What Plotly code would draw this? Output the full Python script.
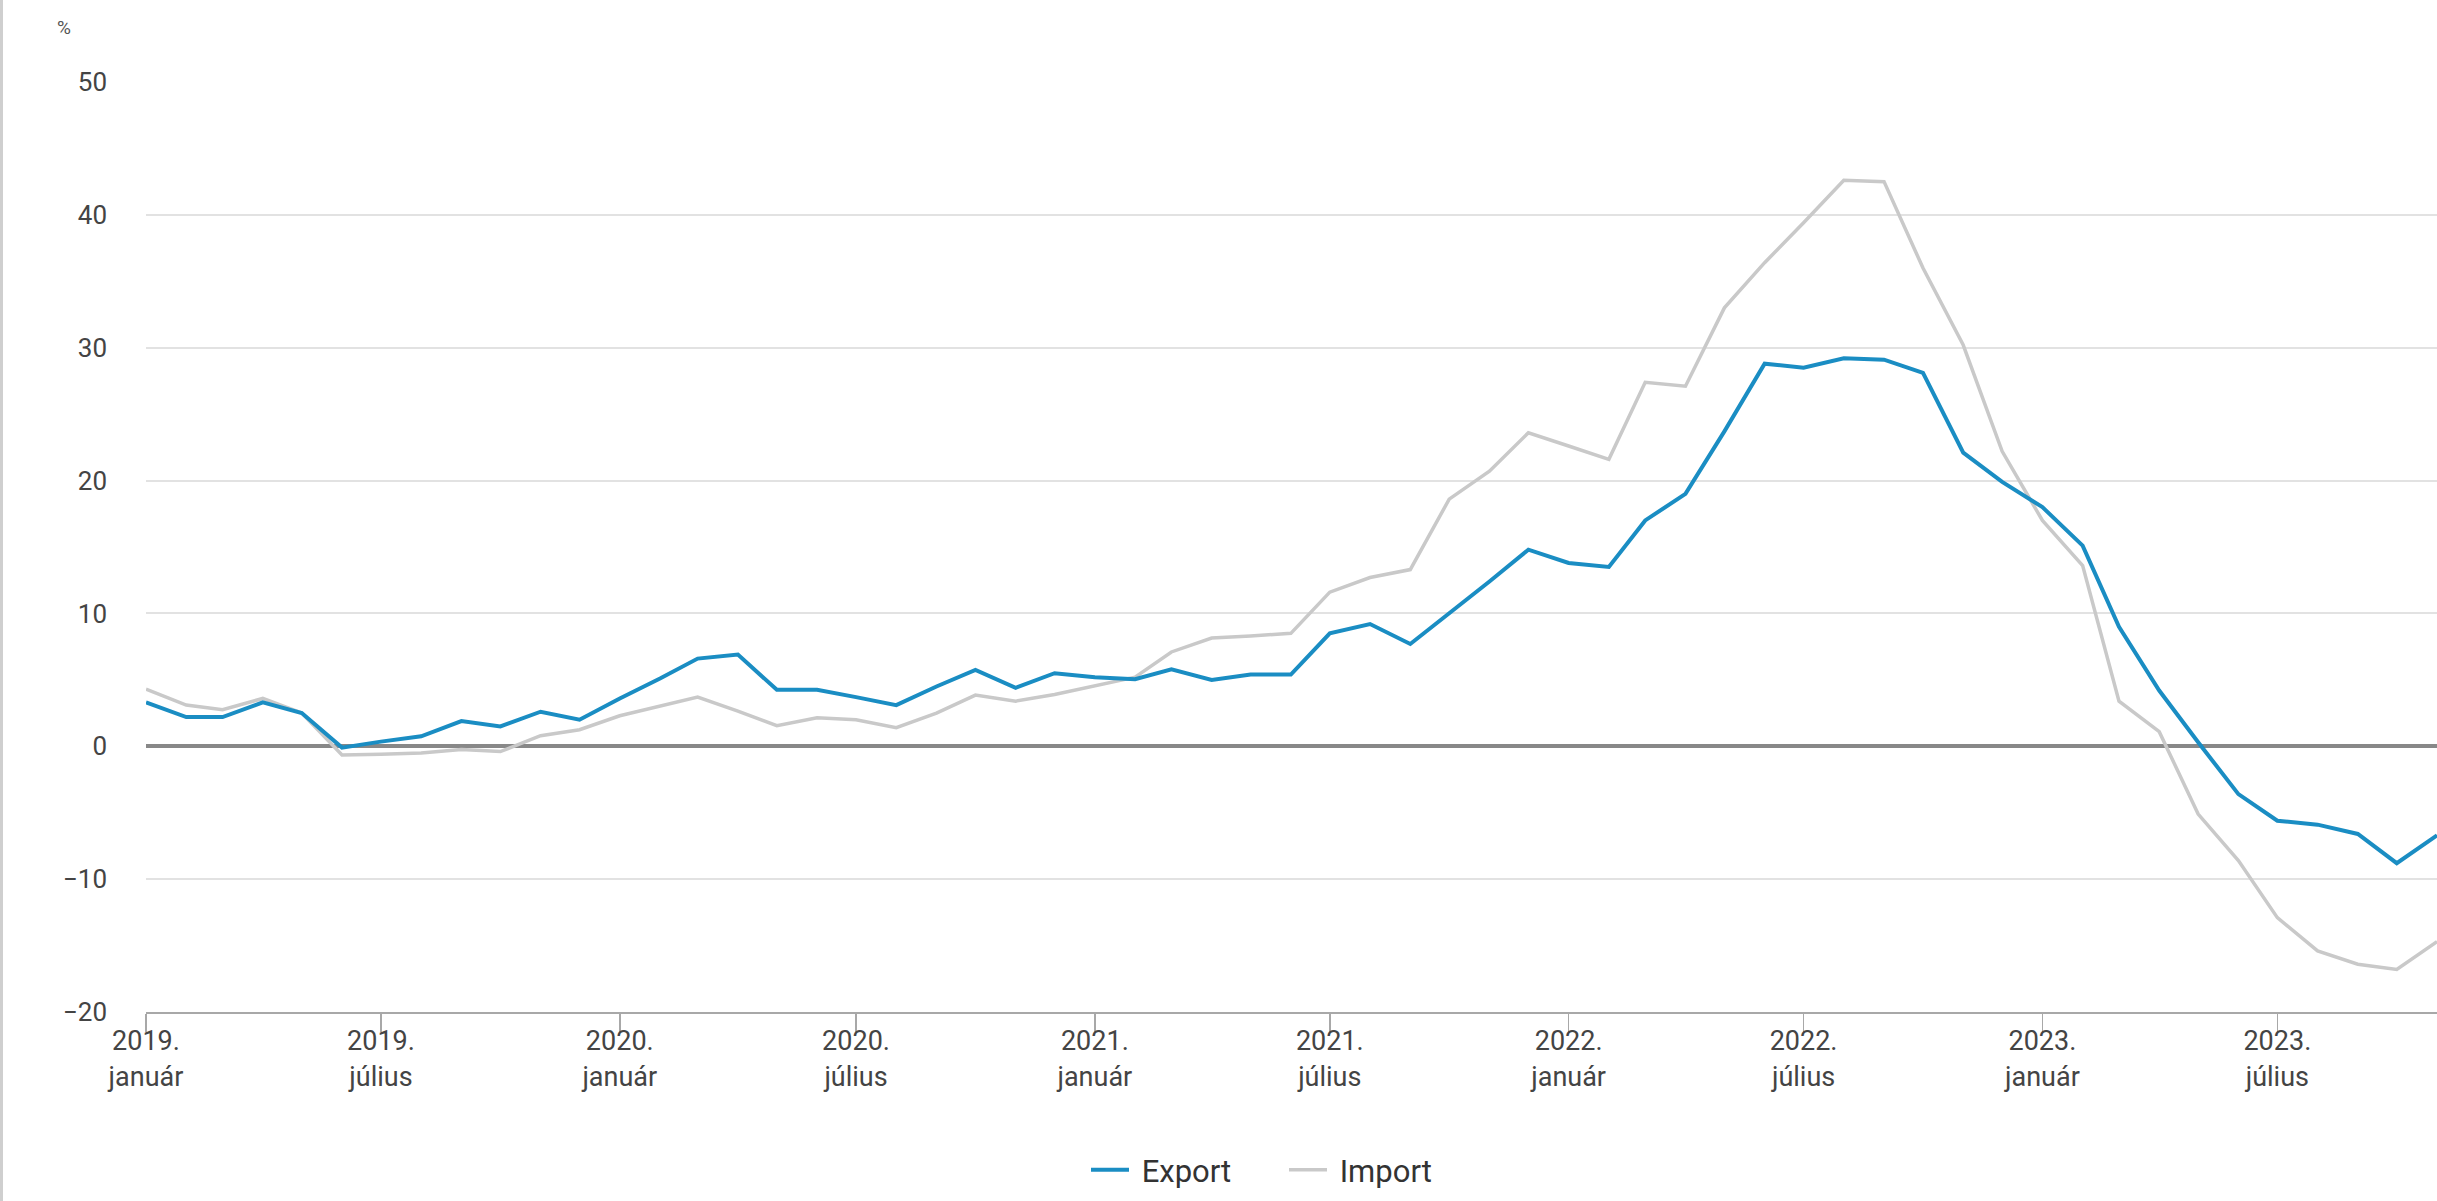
import pandas as pd
import plotly.graph_objects as go

# ---- data ----
months = pd.date_range("2019-01-01", "2023-11-01", freq="MS")

export_vals = [
    3.3, 2.2, 2.2, 3.3, 2.5, -0.1, 0.35, 0.75, 1.9, 1.5, 2.6, 2.0,      # 2019
    3.6, 5.1, 6.6, 6.9, 4.25, 4.25, 3.7, 3.1, 4.5, 5.75, 4.4, 5.5,     # 2020
    5.2, 5.05, 5.8, 5.0, 5.4, 5.4, 8.5, 9.2, 7.7, 10.0, 12.4, 14.8,    # 2021
    13.8, 13.5, 17.0, 19.0, 23.7, 28.8, 28.5, 29.2, 29.1, 28.1, 22.1, 19.9,  # 2022
    18.0, 15.1, 9.0, 4.2, 0.3, -3.6, -5.6, -5.9, -6.6, -8.8, -6.7,     # 2023
]

import_vals = [
    4.3, 3.1, 2.75, 3.6, 2.5, -0.65, -0.6, -0.5, -0.25, -0.4, 0.8, 1.25,
    2.3, 3.0, 3.7, 2.65, 1.55, 2.15, 2.0, 1.4, 2.5, 3.85, 3.4, 3.9,
    4.55, 5.2, 7.1, 8.15, 8.3, 8.5, 11.6, 12.7, 13.3, 18.6, 20.7, 23.6,
    22.6, 21.6, 27.4, 27.1, 33.0, 36.4, 39.4, 42.6, 42.5, 36.0, 30.2, 22.2,
    17.0, 13.6, 3.4, 1.1, -5.1, -8.6, -12.9, -15.4, -16.4, -16.8, -14.7,
]

tick_dates = ["2019-01-01", "2019-07-01", "2020-01-01", "2020-07-01", "2021-01-01",
              "2021-07-01", "2022-01-01", "2022-07-01", "2023-01-01", "2023-07-01"]
tick_text = ["2019.<br>január", "2019.<br>július", "2020.<br>január", "2020.<br>július",
             "2021.<br>január", "2021.<br>július", "2022.<br>január", "2022.<br>július",
             "2023.<br>január", "2023.<br>július"]

y_ticks = [-20, -10, 0, 10, 20, 30, 40, 50]

# ---- figure ----
W, H = 2437, 1201
ML, MR, MT, MB = 146, 0, 82, 189
plot_w = W - ML - MR
plot_h = H - MT - MB

fig = go.Figure()
fig.add_trace(go.Scatter(
    x=months, y=import_vals, name="\u00a0Import", mode="lines",
    line=dict(color="#c9c9c9", width=3.5), legendrank=2,
))
fig.add_trace(go.Scatter(
    x=months, y=export_vals, name="\u00a0Export", mode="lines",
    line=dict(color="#1a8dc3", width=4), legendrank=1,
))

font_family = "Roboto, 'Noto Sans', Arial, sans-serif"

fig.update_layout(
    width=W, height=H,
    margin=dict(l=ML, r=MR, t=MT, b=MB, pad=0),
    paper_bgcolor="white", plot_bgcolor="white",
    font=dict(family=font_family, color="#444444"),
    showlegend=True,
    legend=dict(
        orientation="h", x=(1086 - ML) / plot_w, xanchor="left",
        y=-(1170 - (MT + plot_h)) / plot_h, yanchor="middle",
        font=dict(size=31, color="#333333"),
        itemwidth=38, entrywidth=145, entrywidthmode="pixels",
        traceorder="normal",
    ),
    xaxis=dict(
        type="date",
        range=["2019-01-01", "2023-11-01"],
        tickvals=tick_dates, ticktext=tick_text,
        tickfont=dict(size=27, color="#444444"),
        showgrid=False, zeroline=False,
        showline=True, linecolor="#a8a8a8", linewidth=2,
        ticks="outside", ticklen=18, tickwidth=1.5, tickcolor="#a8a8a8",
        ticklabelstandoff=-14,
    ),
    yaxis=dict(
        range=[-20, 50], tickvals=y_ticks,
        tickfont=dict(size=26, color="#444444"),
        showgrid=True, gridcolor="#e2e2e2", gridwidth=2,
        zeroline=True, zerolinecolor="#888888", zerolinewidth=4,
        showline=False, ticks="", ticklabelstandoff=38,
    ),
    hovermode=False,
)

# "%" unit label at top-left
fig.add_annotation(
    text="%", xref="paper", yref="paper",
    x=(64 - ML) / plot_w, y=(MT + plot_h - 28) / plot_h,
    xanchor="center", yanchor="middle", showarrow=False,
    font=dict(size=19, color="#555555", family=font_family),
)

# thin frame line on the left edge of the image
fig.add_shape(
    type="line", xref="paper", yref="paper",
    x0=(1.5 - ML) / plot_w, x1=(1.5 - ML) / plot_w,
    y0=-(H - MT - plot_h) / plot_h, y1=(MT + plot_h) / plot_h,
    line=dict(color="#cfcfcf", width=3), layer="above",
)

fig.write_html(
    "out.html",
    config={"displayModeBar": False, "staticPlot": True},
    post_script="document.body.style.margin='0px';document.body.style.overflow='hidden';",
)
